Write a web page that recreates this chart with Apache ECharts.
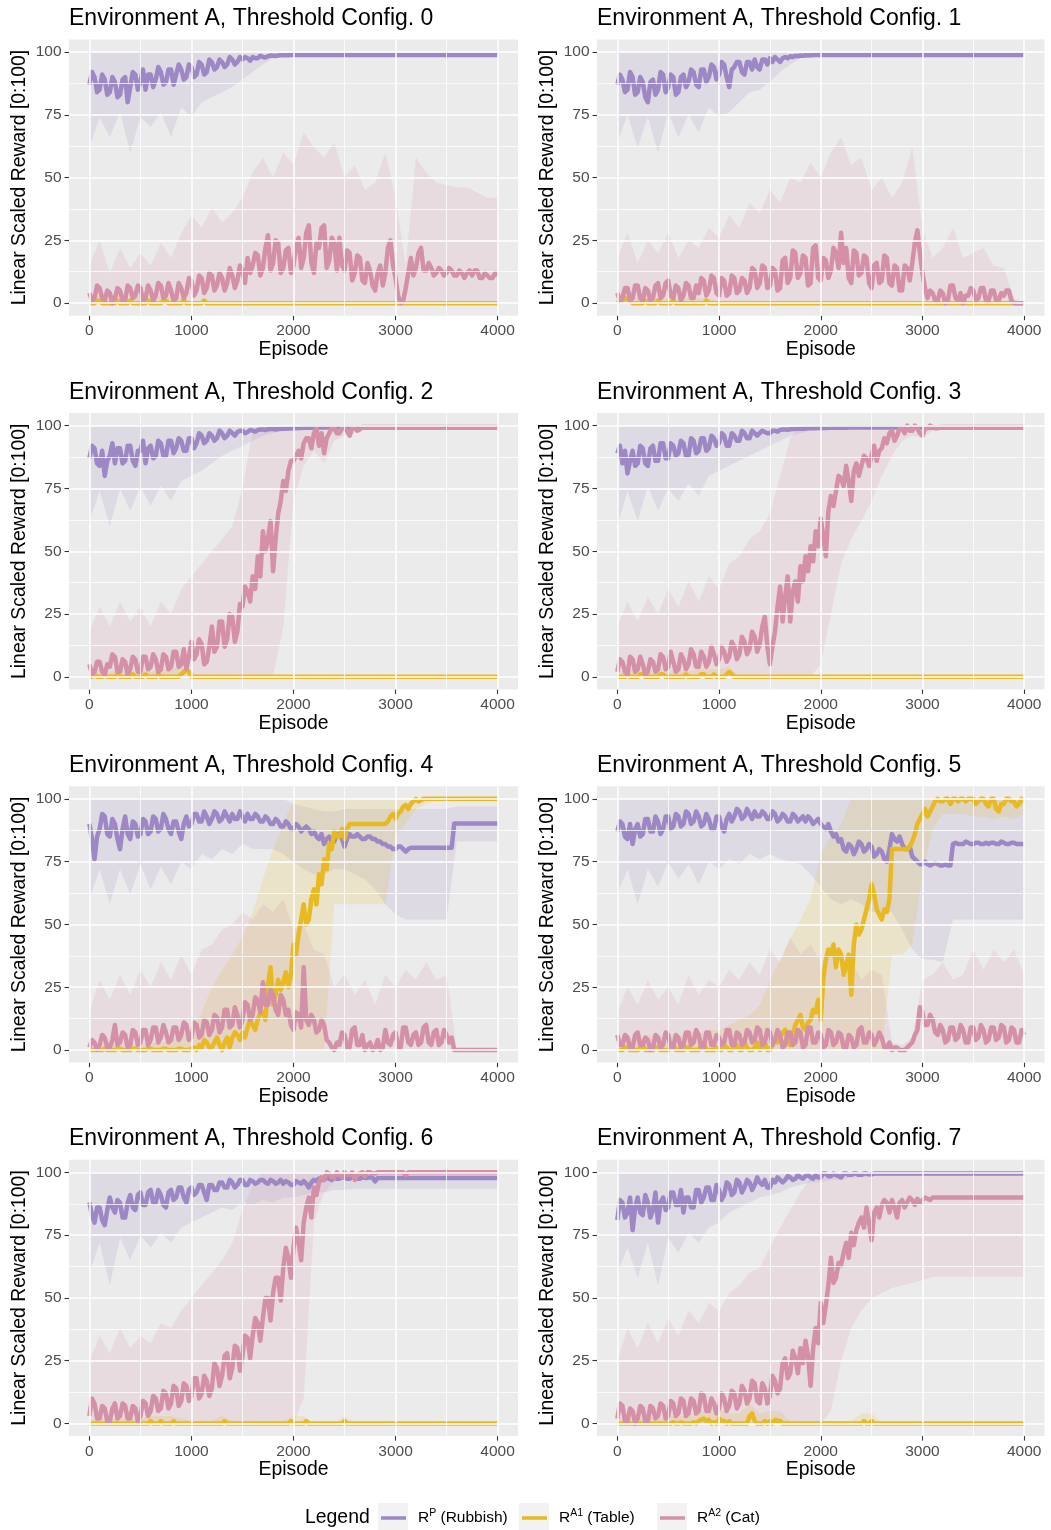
<!DOCTYPE html>
<html><head><meta charset="utf-8">
<script src="https://cdn.jsdelivr.net/npm/echarts@6/dist/echarts.min.js"></script>
<style>html,body{margin:0;padding:0;background:#fff}#c{width:1051px;height:1530px}</style>
</head><body><div id="c"></div>
<script>
// ---------- sample positions (episodes) ----------
const episodesLine = [0,25,50,75,100,125,150,175,200,225,250,275,300,325,350,375,400,425,450,475,
500,525,550,575,600,625,650,675,700,725,750,775,800,825,850,875,900,925,950,975,
1000,1025,1050,1075,1100,1125,1150,1175,1200,1225,1250,1275,1300,1325,1350,1375,1400,1425,1450,1475,
1500,1525,1550,1575,1600,1625,1650,1675,1700,1725,1750,1775,1800,1825,1850,1875,1900,1925,1950,1975,
2000,2025,2050,2075,2100,2125,2150,2175,2200,2225,2250,2275,2300,2325,2350,2375,2400,2425,2450,2475,
2500,2525,2550,2575,2600,2625,2650,2675,2700,2725,2750,2775,2800,2825,2850,2875,2900,2925,2950,2975,
3000,3025,3050,3075,3100,3125,3150,3175,3200,3225,3250,3275,3300,3325,3350,3375,3400,3425,3450,3475,
3500,3525,3550,3575,3600,3625,3650,3675,3700,3725,3750,3775,3800,3825,3850,3875,3900,3925,3950,3975,4000];
const episodesBand = [0,100,200,300,400,500,600,700,800,900,1000,1100,1200,1300,1400,1500,1600,1700,1800,1900,
2000,2100,2200,2300,2400,2500,2600,2700,2800,2900,3000,3100,3200,3300,3400,3500,3600,3700,3800,3900,4000];

// ---------- tick labels ----------
const xMajor = [0,1000,2000,3000,4000];
const xMinor = [500,1500,2500,3500];
const yMajor = [0,25,50,75,100];
const yMinor = [12.5,37.5,62.5,87.5];

const titles = ['Environment A, Threshold Config. 0','Environment A, Threshold Config. 1',
'Environment A, Threshold Config. 2','Environment A, Threshold Config. 3',
'Environment A, Threshold Config. 4','Environment A, Threshold Config. 5',
'Environment A, Threshold Config. 6','Environment A, Threshold Config. 7'];

// ---------- constant rows ----------
const Z41 = [0,0,0,0,0,0,0,0,0,0, 0,0,0,0,0,0,0,0,0,0, 0,0,0,0,0,0,0,0,0,0, 0,0,0,0,0,0,0,0,0,0, 0];
const H41 = [100,100,100,100,100,100,100,100,100,100, 100,100,100,100,100,100,100,100,100,100,
100,100,100,100,100,100,100,100,100,100, 100,100,100,100,100,100,100,100,100,100, 100];

// ================= Panel 0 =================
const p0_rp = [87,92,90,84,85,91,89,83,84,90,88,82,83,89,90,80,86,92,91,85,
88,93,85,91,91,86,89,94,92,87,88,93,93,87,91,95,93,89,90,95,
94,90,91,96,95,91,92,97,96,93,94,97,96,94,95,98,97,95,96,98,
97,98,97.5,96.5,98,97.5,97.5,98.5,98,97.8,98.3,98.6,98.5,98.4,98.6,98.7,98.7,98.7,98.7,98.8,
98.8,98.8,98.8,98.8,98.8,98.8,98.8,98.8,98.8,98.8,98.8,98.8,98.8,98.8,98.8,98.8,98.8,98.8,98.8,98.8,
98.8,98.8,98.8,98.8,98.8,98.8,98.8,98.8,98.8,98.8,98.8,98.8,98.8,98.8,98.8,98.8,98.8,98.8,98.8,98.8,
98.8,98.8,98.8,98.8,98.8,98.8,98.8,98.8,98.8,98.8,98.8,98.8,98.8,98.8,98.8,98.8,98.8,98.8,98.8,98.8,
98.8,98.8,98.8,98.8,98.8,98.8,98.8,98.8,98.8,98.8,98.8,98.8,98.8,98.8,98.8,98.8,98.8,98.8,98.8,98.8, 98.8];
const p0_rp_lo = [62,74,66,76,60,74,70,76,66,78, 74,80,82,84,86,89,92,95,97.5,98.3,
98.3,98.3,98.3,98.3,98.3,98.3,98.3,98.3,98.3,98.3, 98.3,98.3,98.3,98.3,98.3,98.3,98.3,98.3,98.3,98.3, 98.3];
const p0_rp_hi = [100,100,100,100,100,100,100,100,100,100, 100,100,100,100,100,100,100,99.8,99.5,99.3,
99.3,99.3,99.3,99.3,99.3,99.3,99.3,99.3,99.3,99.3, 99.3,99.3,99.3,99.3,99.3,99.3,99.3,99.3,99.3,99.3, 99.3];
const p0_ra1 = [0,0,0,1,1,0,0,0,0,0,0,1,0,0,0,0,1,0,0,0,
0,0,0,1,0,0,0,0,0,1,1,0,0,0,0,0,0,1,0,0,
0,0,0,0,0,1,0,0,0,0,0,0,0,0,0,0,0,0,0,0,
0,0,0,0,0,0,0,0,0,0,0,0,0,0,0,0,0,0,0,0,
0,0,0,0,0,0,0,0,0,0,0,0,0,0,0,0,0,0,0,0,
0,0,0,0,0,0,0,0,0,0,0,0,0,0,0,0,0,0,0,0,
0,0,0,0,0,0,0,0,0,0,0,0,0,0,0,0,0,0,0,0,
0,0,0,0,0,0,0,0,0,0,0,0,0,0,0,0,0,0,0,0, 0];
const p0_ra1_hi = [2,3,2,3,2,3,2,3,2,2, 1,0,0,0,0,0,0,0,0,0, 0,0,0,0,0,0,0,0,0,0, 0,0,0,0,0,0,0,0,0,0, 0];
const p0_ra2 = [4,1,2,7,6,2,1,5,4,0,2,6,5,1,1,7,6,2,3,7,
6,1,2,7,5,1,3,8,7,2,3,8,5,1,2,8,6,2,4,10,
9,3,5,11,10,4,6,12,11,5,7,12,10,5,8,14,11,6,9,15,
13,8,18,12,15,20,19,11,14,22,27,13,16,25,24,12,14,21,22,12,
15,23,26,14,18,28,31,16,12,24,22,30,31,14,17,26,24,13,26,15,
13,21,20,9,12,19,18,9,8,16,13,7,5,12,15,7,12,22,25,15,
10,3,0,1,6,12,18,11,14,20,22,13,13,16,14,11,12,14,13,11,
12,14,13,11,11,13,12,10,12,13,11,13,13,10,10,12,11,10,10,12, 11];
const p0_ra2_hi = [15,25,12,22,14,20,15,24,18,28, 35,30,38,32,36,42,52,58,50,60,
55,68,62,58,64,50,55,45,48,60, 42,15,58,52,48,47,46,46,44,42, 42];

// ================= Panel 1 =================
const p1_rp = [87,91,89,84,85,92,90,83,84,90,88,82,80,88,89,83,85,92,91,84,
86,91,90,83,84,90,91,86,88,93,92,87,86,93,93,88,90,95,94,89,
91,96,95,90,86,93,94,96,96,92,91,96,96,93,97,94,93,97,97,95,
97.5,96,98,97,96,97.5,98,97.5,98.3,98,98.5,98.3,98.6,98.5,98.7,98.6,98.7,98.7,98.8,98.8,
98.8,98.8,98.8,98.8,98.8,98.8,98.8,98.8,98.8,98.8,98.8,98.8,98.8,98.8,98.8,98.8,98.8,98.8,98.8,98.8,
98.8,98.8,98.8,98.8,98.8,98.8,98.8,98.8,98.8,98.8,98.8,98.8,98.8,98.8,98.8,98.8,98.8,98.8,98.8,98.8,
98.8,98.8,98.8,98.8,98.8,98.8,98.8,98.8,98.8,98.8,98.8,98.8,98.8,98.8,98.8,98.8,98.8,98.8,98.8,98.8,
98.8,98.8,98.8,98.8,98.8,98.8,98.8,98.8,98.8,98.8,98.8,98.8,98.8,98.8,98.8,98.8,98.8,98.8,98.8,98.8, 98.8];
const p1_rp_lo = [64,75,62,74,60,76,66,75,68,78, 74,76,80,84,85,88,92,95,97.5,98.3,
98.3,98.3,98.3,98.3,98.3,98.3,98.3,98.3,98.3,98.3, 98.3,98.3,98.3,98.3,98.3,98.3,98.3,98.3,98.3,98.3, 98.3];
const p1_rp_hi = [100,100,100,100,100,100,100,100,100,100, 100,100,100,100,100,100,100,99.8,99.5,99.3,
99.3,99.3,99.3,99.3,99.3,99.3,99.3,99.3,99.3,99.3, 99.3,99.3,99.3,99.3,99.3,99.3,99.3,99.3,99.3,99.3, 99.3];
const p1_ra1 = [0,1,1,2,1.5,1,0,0,0,0,0,1,0,0,0,0,1,0,0,0,
0,0,1,0,0,0,0,0,0,0,0,0,0,0,0,1,0,0,0,0,
0,0,0,0,0,0,0,0,0,0,0,0,0,0,0,0,0,0,0,0,
0,0,0,0,0,0,0,0,0,0,0,0,0,0,0,0,0,0,0,0,
0,0,0,0,0,0,0,0,0,0,0,0,0,0,0,0,0,0,0,0,
0,0,0,0,0,0,0,0,0,0,0,0,0,0,0,0,0,0,0,0,
0,0,0,0,0,0,0,0,0,0,0,0,0,0,0,0,0,0,0,0,
0,0,0,0,0,0,0,0,0,0,0,0,0,0,0,0,0,0,0,0, 0];
const p1_ra1_hi = [3,4,2,2,2,2,2,2,2,2, 1,0,0,0,0,0,0,0,0,0, 0,0,0,0,0,0,0,0,0,0, 0,0,0,0,0,0,0,0,0,0, 0];
const p1_ra2 = [4,1,2,6,6,1,2,7,7,2,1,6,5,1,2,7,8,2,3,8,
9,3,2,7,6,1,3,8,7,2,2,7,4,10,9,3,5,11,10,4,
3,10,9,3,4,11,10,4,5,10,9,4,6,14,13,6,8,15,14,6,
7,14,13,5,6,17,18,8,10,21,20,10,12,19,18,7,8,22,23,10,
9,18,17,10,13,22,20,14,28,16,22,10,8,21,20,11,12,19,18,8,
6,15,16,8,9,19,18,8,7,15,14,5,5,15,14,9,16,24,29,20,
12,6,2,5,4,1,1,5,4,0,1,7,7,2,1,4,0,3,3,6,
5,1,2,6,6,1,1,5,5,1,1,4,3,5,5,1,0,0,0,0, 0];
const p1_ra2_hi = [18,28,16,25,20,28,18,25,22,30, 26,35,30,40,36,45,40,50,48,56,
50,60,66,55,58,45,50,42,48,62, 30,18,22,30,18,20,22,15,14,2, 0];

// ================= Panel 2 =================
const p2_rp = [87,92,91,85,84,90,80,86,88,93,85,91,91,85,86,92,92,86,84,90,
90,94,85,91,92,87,88,94,93,88,88,94,94,89,91,95,94,90,90,95,
95,91,93,97,96,93,94,97,96,94,95,98,97,95,96,98,97,96,97.5,98,
98,97,97.5,98.3,98,97.6,98.3,98.5,98.5,98.2,98.6,98.7,98.7,98.5,98.7,98.8,98.8,98.8,98.9,98.9,
99,99,99.1,99.1,99.2,99.2,99.2,99.2,99.3,99.3,99.3,99.3,99.3,99.3,99.3,99.3,99.3,99.3,99.3,99.3,
99.3,99.3,99.3,99.3,99.3,99.3,99.3,99.3,99.3,99.3,99.3,99.3,99.3,99.3,99.3,99.3,99.3,99.3,99.3,99.3,
99.3,99.3,99.3,99.3,99.3,99.3,99.3,99.3,99.3,99.3,99.3,99.3,99.3,99.3,99.3,99.3,99.3,99.3,99.3,99.3,
99.3,99.3,99.3,99.3,99.3,99.3,99.3,99.3,99.3,99.3,99.3,99.3,99.3,99.3,99.3,99.3,99.3,99.3,99.3,99.3, 99.3];
const p2_rp_lo = [62,74,60,75,66,76,68,76,70,78, 80,82,85,88,90,92,94,96,97,98,
98.5,98.7,98.8,98.8,98.8,98.8,98.8,98.8,98.8,98.8, 98.8,98.8,98.8,98.8,98.8,98.8,98.8,98.8,98.8,98.8, 98.8];
const p2_rp_hi = [100,100,100,100,100,100,100,100,100,100, 100,100,100,100,100,100,100,100,100,100,
100,99.8,99.8,99.8,99.8,99.8,99.8,99.8,99.8,99.8, 99.8,99.8,99.8,99.8,99.8,99.8,99.8,99.8,99.8,99.8, 99.8];
const p2_ra1 = [0,0,1,0,0,0,1,0,0,0,0,1,0,0,0,0,0,1,0,0,
0,0,1,0,0,0,0,1,0,0,0,0,0,0,0,0,1,2,3,2,
0,0,0,0,0,0,0,0,0,0,0,0,0,0,0,0,0,0,0,0,
0,0,0,0,0,0,0,0,0,0,0,0,0,0,0,0,0,0,0,0,
0,0,0,0,0,0,0,0,0,0,0,0,0,0,0,0,0,0,0,0,
0,0,0,0,0,0,0,0,0,0,0,0,0,0,0,0,0,0,0,0,
0,0,0,0,0,0,0,0,0,0,0,0,0,0,0,0,0,0,0,0,
0,0,0,0,0,0,0,0,0,0,0,0,0,0,0,0,0,0,0,0, 0];
const p2_ra1_hi = [2,3,2,3,2,3,2,3,3,4, 2,0,0,0,0,0,0,0,0,0, 0,0,0,0,0,0,0,0,0,0, 0,0,0,0,0,0,0,0,0,0, 0];
const p2_ra2 = [5,1,2,6,6,2,1,5,4,9,8,2,2,7,6,1,3,8,7,2,
2,8,8,3,4,9,7,2,3,9,8,3,4,10,10,4,5,11,3,8,
14,7,9,15,13,5,6,12,20,10,12,22,22,12,15,25,24,14,18,29,
28,36,34,30,40,35,48,40,58,50,55,62,42,55,65,70,78,74,82,86,
86,88,90,87,93,95,95,91,97,99,92,97,89,95,97,99,99,97,97,99,
99,98,96,99,99,98,98.5,99.5,99.5,99.5,99.5,99.5,99.5,99.5,99.5,99.5,99.5,99.5,99.5,99.5,
99.5,99.5,99.5,99.5,99.5,99.5,99.5,99.5,99.5,99.5,99.5,99.5,99.5,99.5,99.5,99.5,99.5,99.5,99.5,99.5,
99.5,99.5,99.5,99.5,99.5,99.5,99.5,99.5,99.5,99.5,99.5,99.5,99.5,99.5,99.5,99.5,99.5,99.5,99.5,99.5, 99.5];
const p2_ra2_lo = [0,0,0,0,0,0,0,0,0,0, 0,0,0,0,0,0,0,0,0,20,
70,84,90,85,94,96,97,99,99.3,99.3, 99.3,99.3,99.3,99.3,99.3,99.3,99.3,99.3,99.3,99.3, 99.3];
const p2_ra2_hi = [18,28,20,30,22,28,20,30,25,35, 40,45,50,55,60,75,98,100,100,100,
100,100,100,100,100,100,100,100,99.8,99.8, 99.8,99.8,99.8,99.8,99.8,99.8,99.8,99.8,99.8,99.8, 99.8];

// ================= Panel 3 =================
const p3_rp = [89,92,85,90,81,86,90,84,85,92,91,85,84,91,92,86,86,93,93,87,
87,93,92,88,89,94,93,88,88,95,94,89,90,95,95,90,91,96,95,92,
93,97,96,92,92,97,96,94,94,98,97,95,95,98,97,96,97,98,97.5,97,
97,98,98,97.6,98.3,98.5,98.5,98.4,98.6,98.7,98.7,98.8,98.8,98.8,98.9,99,99,99,99,99.1,
99.1,99.1,99.1,99.2,99.2,99.2,99.2,99.2,99.2,99.2,99.2,99.3,99.3,99.3,99.3,99.3,99.3,99.3,99.3,99.3,
99.3,99.3,99.3,99.3,99.3,99.3,99.3,99.3,99.3,99.3,99.3,99.3,99.3,99.3,99.3,99.3,99.3,99.3,99.3,99.3,
99.3,99.3,99.3,99.3,99.3,99.3,99.3,99.3,99.3,99.3,99.3,99.3,99.3,99.3,99.3,99.3,99.3,99.3,99.3,99.3,
99.3,99.3,99.3,99.3,99.3,99.3,99.3,99.3,99.3,99.3,99.3,99.3,99.3,99.3,99.3,99.3,99.3,99.3,99.3,99.3, 99.3];
const p3_rp_lo = [60,74,62,76,66,75,70,77,72,80, 82,84,86,88,90,92,94,96,97,98,
98.5,98.8,98.8,98.8,98.8,98.8,98.8,98.8,98.8,98.8, 98.8,98.8,98.8,98.8,98.8,98.8,98.8,98.8,98.8,98.8, 98.8];
const p3_rp_hi = [100,100,100,100,100,100,100,100,100,100, 100,100,100,100,100,100,100,100,100,100,
100,99.8,99.8,99.8,99.8,99.8,99.8,99.8,99.8,99.8, 99.8,99.8,99.8,99.8,99.8,99.8,99.8,99.8,99.8,99.8, 99.8];
const p3_ra1 = [0,0,0,0,1,0,0,0,0,1,1,0,0,0,0,0,0,1,1,0,
0,0,0,0,0,0,0,1,0,0,0,0,0,1,1,0,0,0,1,0,
0,0,0,1,2,1,0,0,0,0,0,0,0,0,0,0,0,0,0,0,
0,0,0,0,0,0,0,0,0,0,0,0,0,0,0,0,0,0,0,0,
0,0,0,0,0,0,0,0,0,0,0,0,0,0,0,0,0,0,0,0,
0,0,0,0,0,0,0,0,0,0,0,0,0,0,0,0,0,0,0,0,
0,0,0,0,0,0,0,0,0,0,0,0,0,0,0,0,0,0,0,0,
0,0,0,0,0,0,0,0,0,0,0,0,0,0,0,0,0,0,0,0, 0];
const p3_ra1_hi = [2,3,3,2,3,2,3,2,3,3, 3,4,0,0,0,0,0,0,0,0, 0,0,0,0,0,0,0,0,0,0, 0,0,0,0,0,0,0,0,0,0, 0];
const p3_ra2 = [2,7,6,2,1,8,7,2,3,8,5,1,2,7,6,2,3,9,8,3,
4,10,6,2,3,9,7,3,5,11,9,4,4,10,8,4,6,12,9,5,
7,12,10,6,8,14,12,7,9,16,14,9,11,18,16,10,13,20,24,12,
5,12,18,28,36,22,32,40,22,34,38,30,44,38,48,42,52,46,58,52,
63,56,48,66,72,68,74,80,79,76,84,78,70,82,85,80,84,88,87,84,
88,92,86,90,91,95,93,97,98,94,96,99,99,97,100,98,98,100,99,97,
96,99,99,100,99.5,99,99,99.5,99.5,99.5,99.5,99.5,99.5,99.5,99.5,99.5,99.5,99.5,99.5,99.5,
99.5,99.5,99.5,99.5,99.5,99.5,99.5,99.5,99.5,99.5,99.5,99.5,99.5,99.5,99.5,99.5,99.5,99.5,99.5,99.5, 99.5];
const p3_ra2_lo = [0,0,0,0,0,0,0,0,0,0, 0,0,0,0,0,0,0,0,0,0,
5,25,45,55,62,70,80,88,94,96, 95,98,99,99.3,99.3,99.3,99.3,99.3,99.3,99.3, 99.3];
const p3_ra2_hi = [20,30,22,32,25,35,28,38,30,40, 35,45,48,55,58,65,80,95,100,100,
100,100,100,100,100,100,100,100,100,100, 100,100,100,99.8,99.8,99.8,99.8,99.8,99.8,99.8, 99.8];

// ================= Panel 4 =================
const p4_rp = [90,84,76,85,88,94,93,86,85,92,90,84,80,88,93,86,84,91,90,85,
86,92,91,86,87,93,92,87,88,94,92,88,86,91,91,87,84,90,93,89,
90,94,94,91,91,95,93,90,92,95,94,91,92,95,93,91,94,92,92,95,
93,91,94,92,92,94,93,91,91,93,92,90,90,92,91,89,89,91,90,88,
88,90,89,87,88,89,88,86,87,85,84,86,82,84,85,83,83,86,86,84,
81,84,86,85,85,86,85,84,84,85,85,84,84,83,83,82,82,81,81,80,
80,81,81,80,79,80,80.5,80.5,80.5,80.5,80.5,80.5,80.5,80.5,80.5,80.5,80.5,80.5,80.5,80.5,
80.5,80.5,80.5,90.2,90.2,90.2,90.2,90.2,90.2,90.2,90.2,90.2,90.2,90.2,90.2,90.2,90.2,90.2,90.2,90.2, 90.2];
const p4_rp_lo = [60,72,58,72,62,74,64,73,66,75, 72,78,76,80,78,82,80,80,80,78,
75,72,70,70,72,72,70,68,64,58, 54,52,52,52,52,52,83,83,83,83, 83];
const p4_rp_hi = [100,100,100,100,100,100,100,100,100,100, 100,100,100,100,100,100,100,100,100,100,
98,97,96,95,95,96,96,96,96,96, 96,96,96,96,96,96,97,97,97,97, 97];
const p4_ra1 = [0,0,0,0.5,0,0,0.5,0,0,0,0,0.5,0.5,0,0,0,0,0.5,0.5,0,
0,0,0,0.5,0.5,0,0,0,0,0.5,0.5,0,0,0,0,0.5,0.5,0,0,0,
0.5,1,0,2,1,4,3,1,1,3,5,2,0,3,5,1,5,7,6,4,
7,5,9,12,10,8,12,15,15,12,26,33,18,22,28,24,27,31,25,30,
42,38,46,52,58,50,52,60,64,58,70,66,76,72,82,80,87,85,85,88,
84,88,90,90,90,90,90,90,90,90,90,90,90,90,90,90,90,91,93,94,
92,94,95,97,97.5,96,98,99,100,99,99.5,100,100,100,100,100,100,100,100,100,
100,100,100,100,100,100,100,100,100,100,100,100,100,100,100,100,100,100,100,100, 100];
const p4_ra1_lo = [0,0,0,0,0,0,0,0,0,0, 0,0,0,0,0,0,0,0,0,0,
0,0,0,0,58,58,58,58,58,58, 85,90,96,98,99,99,99,99,99,99, 99];
const p4_ra1_hi = [2,2,3,2,3,2,3,3,4,5, 8,15,25,32,38,45,55,68,80,90,
100,100,100,100,100,100,100,100,100,100, 100,100,100,100,100,100,100,100,100,100, 100];
const p4_ra2 = [1,4,3,0,2,6,5,1,1,4,10,2,3,7,6,1,2,8,7,2,
3,8,8,2,4,9,9,3,5,10,7,3,4,9,9,4,6,11,10,4,
5,11,10,5,6,12,11,6,8,14,13,7,9,16,16,9,10,17,14,9,
12,19,18,12,14,21,20,15,27,18,18,24,22,16,14,22,20,14,16,10,
8,15,14,9,33,12,10,14,12,7,8,12,10,4,3,1,0,3,2,7,
6,1,1,8,9,2,2,6,0,2,3,0,1,4,0,1,8,3,2,6,
7,1,1,9,9,3,2,6,7,2,3,9,10,3,2,7,8,2,3,8,
6,3,5,0,0,0,0,0,0,0,0,0,0,0,0,0,0,0,0,0, 0];
const p4_ra2_hi = [15,28,20,30,22,32,25,35,28,38, 30,40,42,48,50,55,52,58,55,60,
48,50,40,38,25,30,22,28,18,30, 25,32,28,35,28,30,0,0,0,0, 0];

// ================= Panel 5 =================
const p5_rp = [87,91,90,85,84,90,82,88,90,85,86,92,92,87,87,93,91,86,88,93,
93,88,89,94,93,89,90,95,94,90,91,95,93,89,90,94,92,88,88,93,
93,89,87,92,94,91,93,96,95,92,93,96,94,92,95,93,93,95,94,92,
92,95,94,91,92,94,93,91,91,94,93,91,92,93,91,93,92,90,91,92,
90,89,88,90,87,85,86,83,84,80,79,82,81,78,80,83,82,79,80,82,
81,77,78,80,79,76,75,80,86,84,83,85,82,80,80,81,77,76,75,74,
74,75,74,73.5,74,74.5,74,73.5,73.5,74,73.5,73.5,82,82.5,82,82,82,83,82.5,82,
82,82.5,82.5,82,82,82.5,82,82.5,82.5,82,82,83,82.5,82,82,82.5,82.5,82,82,82, 82];
const p5_rp_lo = [62,72,58,72,65,75,68,74,66,75, 72,76,74,78,76,78,76,75,74,70,
65,60,58,60,58,55,55,55,48,40, 36,36,35,52,52,52,52,52,52,52, 52];
const p5_ra1 = [0,0,0,1,1,0,0,0,0,1,2,0,0,0,0,1,1,0,0,0,
0,1,2,0,0,0,0,1,1,0,0,0,0,2,3,0,0,0,0,1,
0,0,2,1,0,0,1,2,0,0,3,1,0,0,1,3,0,1,3,0,
0,2,4,3,5,7,8,4,2,6,10,12,14,9,8,11,12,16,15,20,
12,28,36,40,38,42,33,40,38,30,34,38,22,42,50,46,48,52,56,60,
66,62,56,54,52,56,55,60,80,80,80,80,80,80,80,81,83,86,90,92,
94,96,93,95,97,99,100,99,99,100,100,98,100,100,99,100,100,99,100,100,
100,98,99,100,100,98,97,100,100,96,95,98,98,100,100,99,99,97,98,100, 99];
const p5_ra1_lo = [0,0,0,0,0,0,0,0,0,0, 0,0,0,0,0,0,0,0,0,0,
0,0,0,0,0,0,0,38,38,42, 70,88,94,94,94,93,93,92,93,92, 94];
const p5_ra1_hi = [4,5,4,6,5,6,5,8,6,8, 8,10,12,14,18,28,36,44,52,60,
78,85,90,100,100,100,100,100,100,100, 100,100,100,100,100,100,100,100,100,100, 100];
const p5_ra2 = [6,2,2,6,5,1,1,6,7,2,2,5,4,0,1,6,5,1,2,7,
6,1,1,6,5,1,2,7,7,2,3,8,6,1,1,7,7,2,2,6,
5,2,3,8,8,2,2,7,6,2,3,8,7,3,4,9,8,2,3,8,
7,2,4,8,6,1,2,7,7,2,3,8,7,1,2,9,9,3,3,7,
6,1,2,8,7,2,3,7,6,1,1,6,5,1,2,8,9,3,3,7,
6,2,4,7,5,1,1,3,0,1,1,0,0,0,1,2,3,6,8,17,
15,10,10,14,12,7,6,10,8,3,4,9,9,4,5,10,8,3,3,9,
9,4,5,10,8,3,4,9,9,4,5,10,9,3,4,9,8,3,3,8, 6];
const p5_ra2_hi = [15,25,18,28,20,25,18,30,22,28, 25,32,28,35,30,40,35,45,38,42,
35,38,30,35,28,32,30,3,2,5, 28,30,35,28,30,40,32,40,35,40, 30];

// ================= Panel 6 =================
const p6_rp = [88,83,80,86,86,81,79,85,90,86,84,89,88,82,82,88,91,86,85,91,
92,87,87,92,93,88,88,93,91,87,86,92,93,89,90,94,94,90,88,93,
94,91,92,95,95,92,89,95,95,93,93,96,96,94,94,97,96,94,95,97,
97,95,95,97,96.5,95.5,96,97,97,96,95.5,97,96.5,95.5,96,97,95.5,96.5,96,95,
95,96.5,96,95.5,96.5,95.5,94,96,97,96.5,97.5,97,97,98,97.5,97,98,97.5,97.5,98,
98,97.5,97.5,98,98,97.5,97.5,98,97.8,97.8,98,97.8,96.4,97.8,97.8,97.8,97.8,97.8,97.8,97.8,
97.8,97.8,97.8,97.8,97.8,97.8,97.8,97.8,97.8,97.8,97.8,97.8,97.8,97.8,97.8,97.8,97.8,97.8,97.8,97.8,
97.8,97.8,97.8,97.8,97.8,97.8,97.8,97.8,97.8,97.8,97.8,97.8,97.8,97.8,97.8,97.8,97.8,97.8,97.8,97.8, 97.8];
const p6_rp_lo = [60,72,55,74,65,75,70,76,72,78, 80,82,84,86,85,88,87,89,88,90,
90,91,92,92,93,93,93.5,93.5,93.5,93.5, 93.5,93.5,93.5,93.5,93.5,93.5,93.5,93.5,93.5,93.5, 93.5];
const p6_ra1 = [0,0,0,0,0,0,0,0,0,0,0,0,0,0,0,0,0,0,0,0,
0,0,0,0,1,0,0,0,1,0,0,0,0,1,0,0,0,0,0,0,
0,0,0,0,0,0,0,0,0,0,0,0,0,1,0,0,0,0,0,0,
0,0,0,0,0,0,0,0,0,0,0,0,0,0,0,0,0,0,0,1,
0,0,0,0,0,1,0,0,0,0,0,0,0,0,0,0,0,0,0,0,
1,0,0,0,0,0,0,0,0,0,0,0,0,0,0,0,0,0,0,0,
0,0,0,0,0,0,0,0,0,0,0,0,0,0,0,0,0,0,0,0,
0,0,0,0,0,0,0,0,0,0,0,0,0,0,0,0,0,0,0,0, 0];
const p6_ra1_hi = [2,2,2,2,2,2,3,3,3,2, 1,1,1,3,1,1,1,1,1,1, 3,3,0,0,0,3,0,0,0,0, 0,0,0,0,0,0,0,0,0,0, 0];
const p6_ra2 = [3,10,8,2,2,7,6,1,1,6,8,2,3,8,7,2,2,7,6,1,
3,9,8,3,5,11,10,5,6,13,12,6,8,15,14,7,9,16,15,9,
11,18,18,10,12,19,17,11,14,24,22,15,19,27,28,18,22,31,30,21,
27,35,34,26,35,42,40,33,42,50,50,41,52,58,58,49,62,70,66,58,
70,78,72,65,80,86,90,82,94,91,96,98,97,100,99.5,98,98,100,99,98,
100,99,99,100,97,99,99.5,100,98.5,100,100,99.5,99.5,100,100,100,100,100,100,100,
100,100,100,100,99,100,100,100,100,100,100,100,100,100,100,100,100,100,100,100,
100,100,100,100,100,100,100,100,100,100,100,100,100,100,100,100,100,100,100,100, 100];
const p6_ra2_lo = [0,0,0,0,0,0,0,0,0,0, 0,0,0,0,0,0,0,0,0,0,
0,10,80,92,96,98,99.5,99.5,99.5,99.5, 99.5,99.5,99.5,99.5,99.5,99.5,99.5,99.5,99.5,99.5, 99.5];
const p6_ra2_hi = [25,35,28,38,30,35,32,40,38,45, 50,55,60,65,72,85,95,100,100,100,
100,100,100,100,100,100,100,100,100,100, 100,100,100,100,100,100,100,100,100,100, 100];

// ================= Panel 7 =================
const p7_rp = [81,89,88,82,84,90,77,86,90,84,83,91,88,82,85,92,80,88,90,85,
86,92,92,87,87,93,84,90,90,86,86,93,93,88,90,94,94,89,89,95,
93,89,91,96,95,91,92,97,96,92,94,97,96,93,95,98,96,95,97,94,
94,97,96,98,97,96,97,98.5,98,97,97.5,99,98,97.5,98.5,99,98,97.5,99,98,
98,99.5,99.5,98.5,98.5,99.5,99,98.5,98,99.5,99.5,99,99,99.5,99.5,99,99,99.5,99.5,99.2,
99.2,99.5,99.5,99.5,99.5,99.5,99.5,99.5,99.5,99.5,99.5,99.5,99.5,99.5,99.5,99.5,99.5,99.5,99.5,99.5,
99.5,99.5,99.5,99.5,99.5,99.5,99.5,99.5,99.5,99.5,99.5,99.5,99.5,99.5,99.5,99.5,99.5,99.5,99.5,99.5,
99.5,99.5,99.5,99.5,99.5,99.5,99.5,99.5,99.5,99.5,99.5,99.5,99.5,99.5,99.5,99.5,99.5,99.5,99.5,99.5, 99.5];
const p7_rp_lo = [60,70,58,72,55,74,68,76,72,78, 80,84,86,88,90,91,92,94,95,96,
96,97,97,98,98,98.5,99,99,99,99, 99,99,99,99,99,99,99,99,99,99, 99];
const p7_ra1 = [0,0,0,0,0,0,0,0,0,0,0,0,0,0,0,0,0,0,0,0,
0,0,0.5,0,0,0.5,0,0,0,0,0.5,0,1,1.5,2,1,1.5,0,0.5,0,
2,1,1,0,1,0,0,0,0,0,0,0,3,4,1,0,0,0,1,0,
1,0,1.5,1,1,0,0,0,0,0,0,0,0,0,0,0,0,0,0,0,
0,0,0,0,0,0,0,0,0,0,0,0,0,0,0,0,0,1,0,0,
1,0,0,0,0,0,0,0,0,0,0,0,0,0,0,0,0,0,0,0,
0,0,0,0,0,0,0,0,0,0,0,0,0,0,0,0,0,0,0,0,
0,0,0,0,0,0,0,0,0,0,0,0,0,0,0,0,0,0,0,0, 0];
const p7_ra1_hi = [2,3,2,3,2,3,3,3,5,6, 6,4,4,8,4,5,5,1,1,1, 1,1,1,1,4,4,0,0,0,0, 0,0,0,0,0,0,0,0,0,0, 0];
const p7_ra2 = [2,8,7,1,1,6,5,0,2,7,6,1,1,7,6,2,3,8,7,2,
3,9,8,3,4,10,9,3,4,10,9,4,5,12,11,5,5,10,8,4,
6,12,10,5,7,13,12,6,8,15,13,8,10,17,16,9,8,16,14,8,
11,19,17,12,14,24,26,18,20,29,26,20,30,24,33,27,15,30,38,32,
48,40,47,55,66,56,58,64,63,68,72,66,76,71,77,80,82,78,86,80,
73,84,86,82,87,89,88,84,89,86,82,88,89,86,88,90,89,87,89.5,88,
89,90,89.5,89,90,90,90,90,90,90,90,90,90,90,90,90,90,90,90,90,
90,90,90,90,90,90,90,90,90,90,90,90,90,90,90,90,90,90,90,90, 90];
const p7_ra2_lo = [0,0,0,0,0,0,0,0,0,0, 0,0,0,0,0,0,0,0,0,0,
0,5,25,38,45,50,52,54,55,56, 57,58.4,58.4,58.4,58.4,58.4,58.4,58.4,58.4,58.4, 58.4];
const p7_ra2_hi = [25,38,30,40,32,42,35,45,40,48, 45,52,55,60,62,70,78,85,92,98,
100,100,100,100,100,100,100,100,100,100, 100,100,100,100,100,100,100,100,100,100, 100];

// ---------- assemble ----------
const panels = [
  {rp:[p0_rp,p0_rp_lo,p0_rp_hi], ra1:[p0_ra1,Z41,p0_ra1_hi], ra2:[p0_ra2,Z41,p0_ra2_hi]},
  {rp:[p1_rp,p1_rp_lo,p1_rp_hi], ra1:[p1_ra1,Z41,p1_ra1_hi], ra2:[p1_ra2,Z41,p1_ra2_hi]},
  {rp:[p2_rp,p2_rp_lo,p2_rp_hi], ra1:[p2_ra1,Z41,p2_ra1_hi], ra2:[p2_ra2,p2_ra2_lo,p2_ra2_hi]},
  {rp:[p3_rp,p3_rp_lo,p3_rp_hi], ra1:[p3_ra1,Z41,p3_ra1_hi], ra2:[p3_ra2,p3_ra2_lo,p3_ra2_hi]},
  {rp:[p4_rp,p4_rp_lo,p4_rp_hi], ra1:[p4_ra1,p4_ra1_lo,p4_ra1_hi], ra2:[p4_ra2,Z41,p4_ra2_hi]},
  {rp:[p5_rp,p5_rp_lo,H41], ra1:[p5_ra1,p5_ra1_lo,p5_ra1_hi], ra2:[p5_ra2,Z41,p5_ra2_hi]},
  {rp:[p6_rp,p6_rp_lo,H41], ra1:[p6_ra1,Z41,p6_ra1_hi], ra2:[p6_ra2,p6_ra2_lo,p6_ra2_hi]},
  {rp:[p7_rp,p7_rp_lo,H41], ra1:[p7_ra1,Z41,p7_ra1_hi], ra2:[p7_ra2,p7_ra2_lo,p7_ra2_hi]}
];

const FONT = '"Liberation Sans", Arial, Helvetica, sans-serif';
const COL = {rp:'#9D87C4', ra1:'#E8B923', ra2:'#D490A6'};
const BAND = {rp:'rgba(157,135,196,0.17)', ra1:'rgba(232,185,35,0.17)', ra2:'rgba(212,144,166,0.17)'};
const KEYS = ['rp','ra1','ra2'];
const colLeft = [69, 597], colWidth = [449, 447.5];
const rowTop = [39.4, 413.1, 786.3, 1159.8], rowH = 276.3;

const zip = (xs, ys) => xs.map((x, i) => [x, ys[i]]);

const grids = [], xAxes = [], yAxes = [], titleArr = [], series = [];
panels.forEach((p, i) => {
  const r = Math.floor(i / 2), c = i % 2;
  grids.push({left: colLeft[c], top: rowTop[r], width: colWidth[c], height: rowH,
    show: true, backgroundColor: '#EBEBEB', borderWidth: 0, containLabel: false, outerBoundsMode: 'none'});
  titleArr.push({text: titles[i], left: colLeft[c], top: rowTop[r] - 34.7, padding: 0,
    textStyle: {fontSize: 23, fontWeight: 'normal', color: '#000', fontFamily: FONT, lineHeight: 28}});
  xAxes.push({type: 'value', gridIndex: i, min: -200, max: 4200,
    axisLine: {show: false, onZero: false},
    axisTick: {show: true, length: 4.5, customValues: xMajor, lineStyle: {color: '#333', width: 1.1}},
    axisLabel: {customValues: xMajor, formatter: v => String(v), color: '#4D4D4D', fontSize: 15.5, fontFamily: FONT, margin: 7.5},
    splitLine: {show: false},
    name: 'Episode', nameLocation: 'middle', nameGap: 24,
    nameTextStyle: {fontSize: 19.4, color: '#000', fontFamily: FONT}});
  yAxes.push({type: 'value', gridIndex: i, min: -5, max: 105,
    axisLine: {show: false, onZero: false},
    axisTick: {show: true, length: 4.5, customValues: yMajor, lineStyle: {color: '#333', width: 1.1}},
    axisLabel: {customValues: yMajor, formatter: v => String(v), color: '#4D4D4D', fontSize: 15.5, fontFamily: FONT, margin: 7.5},
    splitLine: {show: false},
    name: 'Linear Scaled Reward [0:100]', nameLocation: 'middle', nameGap: 40,
    nameTextStyle: {fontSize: 19.4, color: '#000', fontFamily: FONT}});

  // panel grid lines (major + minor), drawn below the data
  const gl = (w) => ({color: '#FFFFFF', width: w, type: 'solid', opacity: 1});
  series.push({type: 'line', xAxisIndex: i, yAxisIndex: i, data: [], z: 1, silent: true,
    markLine: {silent: true, symbol: ['none','none'], label: {show: false}, animation: false,
      emphasis: {disabled: true},
      data: [].concat(
        xMinor.map(v => ({xAxis: v, lineStyle: gl(0.75)})),
        yMinor.map(v => ({yAxis: v, lineStyle: gl(0.75)})),
        xMajor.map(v => ({xAxis: v, lineStyle: gl(1.5)})),
        yMajor.map(v => ({yAxis: v, lineStyle: gl(1.5)})))}});

  // ribbons (min/max band) as polygons through the axis scales
  KEYS.forEach(k => {
    const lo = p[k][1], hi = p[k][2];
    series.push({type: 'custom', name: k + '-band', xAxisIndex: i, yAxisIndex: i, z: 2, silent: true,
      data: [[0, 0]],
      renderItem: (params, api) => {
        const pts = [];
        for (let j = 0; j < episodesBand.length; j++) pts.push(api.coord([episodesBand[j], hi[j]]));
        for (let j = episodesBand.length - 1; j >= 0; j--) pts.push(api.coord([episodesBand[j], lo[j]]));
        return {type: 'polygon', shape: {points: pts}, style: {fill: BAND[k], stroke: null}};
      }});
  });
  // mean lines
  KEYS.forEach(k => {
    series.push({type: 'line', name: k, xAxisIndex: i, yAxisIndex: i,
      data: zip(episodesLine, p[k][0]), symbol: 'none', showSymbol: false,
      lineStyle: {width: 4.5, color: COL[k], join: 'round'}, itemStyle: {color: COL[k]},
      silent: true, z: 3});
  });
});

const legendText = {rp: '{sp|}{b|R}{s|P}{b| (Rubbish)}', ra1: '{sp|}{b|R}{s|A1}{b| (Table)}', ra2: '{sp|}{b|R}{s|A2}{b| (Cat)}'};
const legendLeft = [381, 522, 660];
const legends = KEYS.map((k, j) => ({
  data: [k], left: legendLeft[j], top: 1508, padding: 0, itemGap: 0,
  icon: 'rect', itemWidth: 25, itemHeight: 3.5, selectedMode: false,
  formatter: n => legendText[n],
  textStyle: {color: '#000', fontFamily: FONT, fontSize: 15.5,
    rich: {sp: {width: 7}, b: {fontSize: 15.5, lineHeight: 20, color: '#000', fontFamily: FONT},
      s: {fontSize: 10.5, lineHeight: 13, verticalAlign: 'top', color: '#000', fontFamily: FONT}}}
}));

const chart = echarts.init(document.getElementById('c'), null, {renderer: 'canvas'});
chart.setOption({
  backgroundColor: '#FFFFFF',
  animation: false,
  title: titleArr,
  grid: grids,
  xAxis: xAxes,
  yAxis: yAxes,
  legend: legends,
  graphic: [
    {type: 'text', left: 305, top: 1508, z: 0, style: {text: 'Legend', fontSize: 19.4, fontFamily: FONT, fill: '#000'}},
    {type: 'rect', shape: {x: 378, y: 1503, width: 30, height: 29}, style: {fill: '#F2F2F2'}, z: 0},
    {type: 'rect', shape: {x: 519, y: 1503, width: 30, height: 29}, style: {fill: '#F2F2F2'}, z: 0},
    {type: 'rect', shape: {x: 657, y: 1503, width: 30, height: 29}, style: {fill: '#F2F2F2'}, z: 0}
  ],
  series: series
});
</script></body></html>
